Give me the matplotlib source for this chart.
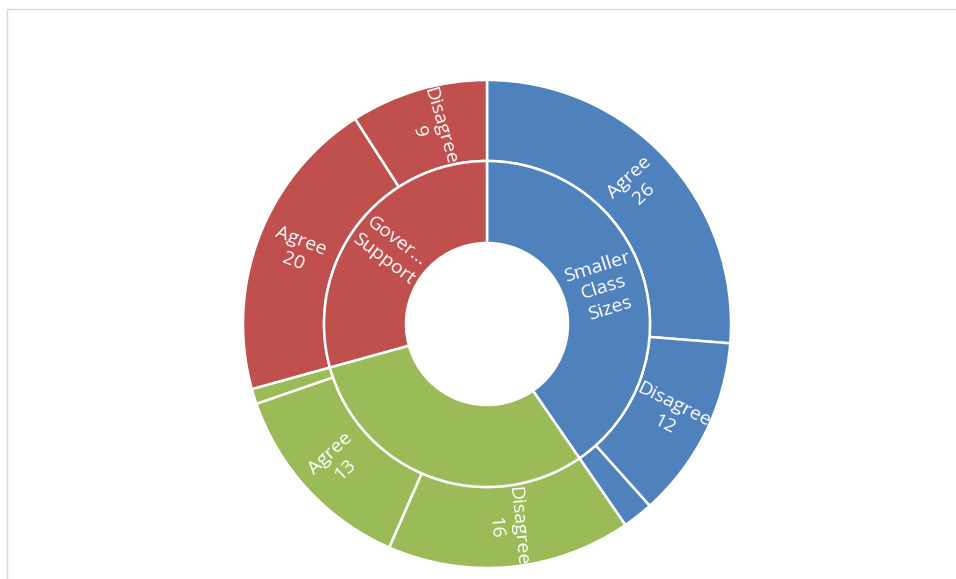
import matplotlib
matplotlib.use('Agg')
import matplotlib.pyplot as plt
from matplotlib.patches import Rectangle
import numpy as np

# Sunburst data (Excel sorts each level by size, largest first)
groups = ['Smaller\nClass\nSizes', '', 'Gover…\nSupport']
group_values = [40, 30, 29]
group_colors = ['#4F81BD', '#9BBB59', '#C0504D']

leaf_names = ['Agree', 'Disagree', '', 'Disagree', 'Agree', '', 'Agree', 'Disagree']
leaf_values = [26, 12, 2, 16, 13, 1, 20, 9]
leaf_group = [0, 0, 0, 1, 1, 1, 2, 2]

W, H = 956, 579
fig = plt.figure(figsize=(W / 100, H / 100), dpi=100)
# light chart-area border (only top and left edges are visible)
fig.patches.append(Rectangle((7 / W, -0.1), 1.2, 1.1 - 9 / H, transform=fig.transFigure,
                             fill=False, edgecolor='#D9D9D9', linewidth=1))

# pie centre at (487, 324) px, outer radius 244 px
cx, cy, R = 487, 324, 244
ax = fig.add_axes([(cx - R) / W, (H - cy - R) / H, 2 * R / W, 2 * R / H])
ax.axis('off')

r_mid = 163 / R
r_hole = 81 / R

outer, _ = ax.pie(leaf_values, radius=1, startangle=90, counterclock=False,
                  colors=[group_colors[g] for g in leaf_group],
                  wedgeprops=dict(width=1 - r_mid, edgecolor='white', linewidth=1.8))
inner, _ = ax.pie(group_values, radius=r_mid, startangle=90, counterclock=False,
                  colors=group_colors,
                  wedgeprops=dict(width=r_mid - r_hole, edgecolor='white', linewidth=1.8))
ax.set_xlim(-1, 1)
ax.set_ylim(-1, 1)


def put_label(w, text, r):
    if not text:
        return
    a = (w.theta1 + w.theta2) / 2.0
    # radial text, kept readable
    rot = a
    while rot > 90:
        rot -= 180
    while rot <= -90:
        rot += 180
    x = r * np.cos(np.radians(a))
    y = r * np.sin(np.radians(a))
    ax.text(x, y, text, color='white', fontsize=14, family='Open Sans',
            ha='center', va='center', rotation=rot, rotation_mode='anchor',
            linespacing=1.3)


r_out_lbl = (1 + r_mid) / 2
for w, name, v in zip(outer, leaf_names, leaf_values):
    if name:
        put_label(w, name + '\n' + str(v), r_out_lbl)

r_in_lbl = (r_mid + r_hole) / 2
for w, name in zip(inner, groups):
    put_label(w, name, r_in_lbl)

fig.savefig('out.png', dpi=100)
